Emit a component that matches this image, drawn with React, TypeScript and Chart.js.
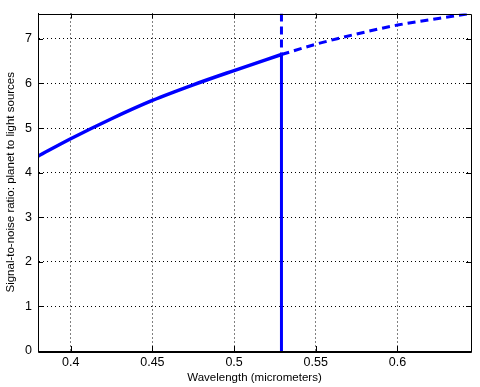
import React, { useEffect, useRef } from "react";
import { Chart, registerables } from "chart.js";

Chart.register(...registerables);

// Data
const solidX = [0.38, 0.4, 0.425, 0.45, 0.475, 0.5, 0.529];
const solidY = [4.37, 4.76, 5.21, 5.62, 5.97, 6.29, 6.65];
const dashedX = [0.529, 0.55, 0.575, 0.6, 0.625, 0.645];
const dashedY = [6.65, 6.88, 7.11, 7.31, 7.46, 7.57];
const cutoffX = 0.529;
const xTicks = [0.4, 0.45, 0.5, 0.55, 0.6];
const xTickLabels = ["0.4", "0.45", "0.5", "0.55", "0.6"];
const yTicks = [0, 1, 2, 3, 4, 5, 6, 7];
const yTickLabels = ["0", "1", "2", "3", "4", "5", "6", "7"];
const xMin = 0.38;
const xMax = 0.645;
const yMin = 0;
const yMax = 7.57;
const xTitle = "Wavelength (micrometers)";
const yTitle = "Signal-to-noise ratio: planet to light sources";

const FONT = "Liberation Sans, Arial, Helvetica, sans-serif";
const BLUE = "#0000ff";

const boxPlugin = {
  id: "boxPlugin",
  afterDraw(chart: any) {
    const { ctx, chartArea } = chart;
    const { left, right, top, bottom } = chartArea;
    const xs = chart.scales.x;
    const ys = chart.scales.y;
    ctx.save();
    ctx.strokeStyle = "#000";
    ctx.lineWidth = 1;
    ctx.setLineDash([]);
    ctx.beginPath();
    ctx.rect(Math.round(left) + 0.5, Math.round(top) + 0.5, Math.round(right - left), Math.round(bottom - top));
    ctx.stroke();
    const tl = 5;
    ctx.beginPath();
    xTicks.forEach((v) => {
      const px = Math.round(xs.getPixelForValue(v)) + 0.5;
      ctx.moveTo(px, bottom);
      ctx.lineTo(px, bottom - tl);
      ctx.moveTo(px, top);
      ctx.lineTo(px, top + tl);
    });
    yTicks.forEach((v) => {
      const py = Math.round(ys.getPixelForValue(v)) + 0.5;
      ctx.moveTo(left, py);
      ctx.lineTo(left + tl, py);
      ctx.moveTo(right, py);
      ctx.lineTo(right - tl, py);
    });
    ctx.stroke();
    ctx.restore();
  },
};

export default function App() {
  const ref = useRef<HTMLCanvasElement>(null);
  useEffect(() => {
    if (!ref.current) return;
    const chart = new Chart(ref.current, {
      type: "line",
      data: {
        datasets: [
          {
            data: solidX.map((x, i) => ({ x, y: solidY[i] })),
            borderColor: BLUE,
            borderWidth: 3.5,
            pointRadius: 0,
            cubicInterpolationMode: "monotone",
            fill: false,
          },
          {
            data: dashedX.map((x, i) => ({ x, y: dashedY[i] })),
            borderColor: BLUE,
            borderWidth: 3,
            borderDash: [8, 5],
            pointRadius: 0,
            cubicInterpolationMode: "monotone",
            fill: false,
          },
          {
            data: [
              { x: cutoffX, y: yMin },
              { x: cutoffX, y: solidY[solidY.length - 1] },
            ],
            borderColor: BLUE,
            borderWidth: 3,
            pointRadius: 0,
            fill: false,
          },
          {
            data: [
              { x: cutoffX, y: yMax },
              { x: cutoffX, y: solidY[solidY.length - 1] },
            ],
            borderColor: BLUE,
            borderWidth: 3,
            borderDash: [8, 5],
            pointRadius: 0,
            fill: false,
          },
        ],
      } as any,
      options: {
        animation: false,
        responsive: false,
        maintainAspectRatio: false,
        layout: { padding: { top: 8, right: 9, left: 0, bottom: 0 } },
        plugins: { legend: { display: false }, tooltip: { enabled: false } },
        scales: {
          x: {
            type: "linear",
            min: xMin,
            max: xMax,
            afterBuildTicks: (s: any) => {
              s.ticks = xTicks.map((v) => ({ value: v }));
            },
            afterFit: (s: any) => {
              s.height = 36;
            },
            ticks: {
              color: "#000",
              font: { family: FONT, size: 12.5 },
              padding: 4,
              maxRotation: 0,
              autoSkip: false,
              callback: (v: any) => {
                const i = xTicks.findIndex((t) => Math.abs(t - v) < 1e-9);
                return i >= 0 ? xTickLabels[i] : "";
              },
            },
            grid: { color: "#000", lineWidth: 1, drawTicks: false },
            border: { display: true, color: "#000", width: 1, dash: [1, 3] },
            title: {
              display: true,
              text: xTitle,
              color: "#000",
              font: { family: FONT, size: 11.5 },
              padding: { top: 0, bottom: 2 },
            },
          },
          y: {
            type: "linear",
            min: yMin,
            max: yMax,
            afterBuildTicks: (s: any) => {
              s.ticks = yTicks.map((v) => ({ value: v }));
            },
            afterFit: (s: any) => {
              s.width = 38;
            },
            ticks: {
              color: "#000",
              font: { family: FONT, size: 12.5 },
              padding: 6,
              autoSkip: false,
              callback: (v: any) => {
                const i = yTicks.findIndex((t) => Math.abs(t - v) < 1e-9);
                return i >= 0 ? yTickLabels[i] : "";
              },
            },
            grid: { color: "#000", lineWidth: 1, drawTicks: false },
            border: { display: true, color: "#000", width: 1, dash: [1, 3] },
            title: {
              display: true,
              text: yTitle,
              color: "#000",
              font: { family: FONT, size: 11.5 },
              padding: { top: 4, bottom: 0 },
            },
          },
        },
      } as any,
      plugins: [boxPlugin],
    });
    return () => chart.destroy();
  }, []);
  return (
    <div style={{ position: "fixed", left: 0, top: 0, width: 480, height: 387, background: "#fff" }}>
      <canvas ref={ref} width={480} height={387} />
    </div>
  );
}
